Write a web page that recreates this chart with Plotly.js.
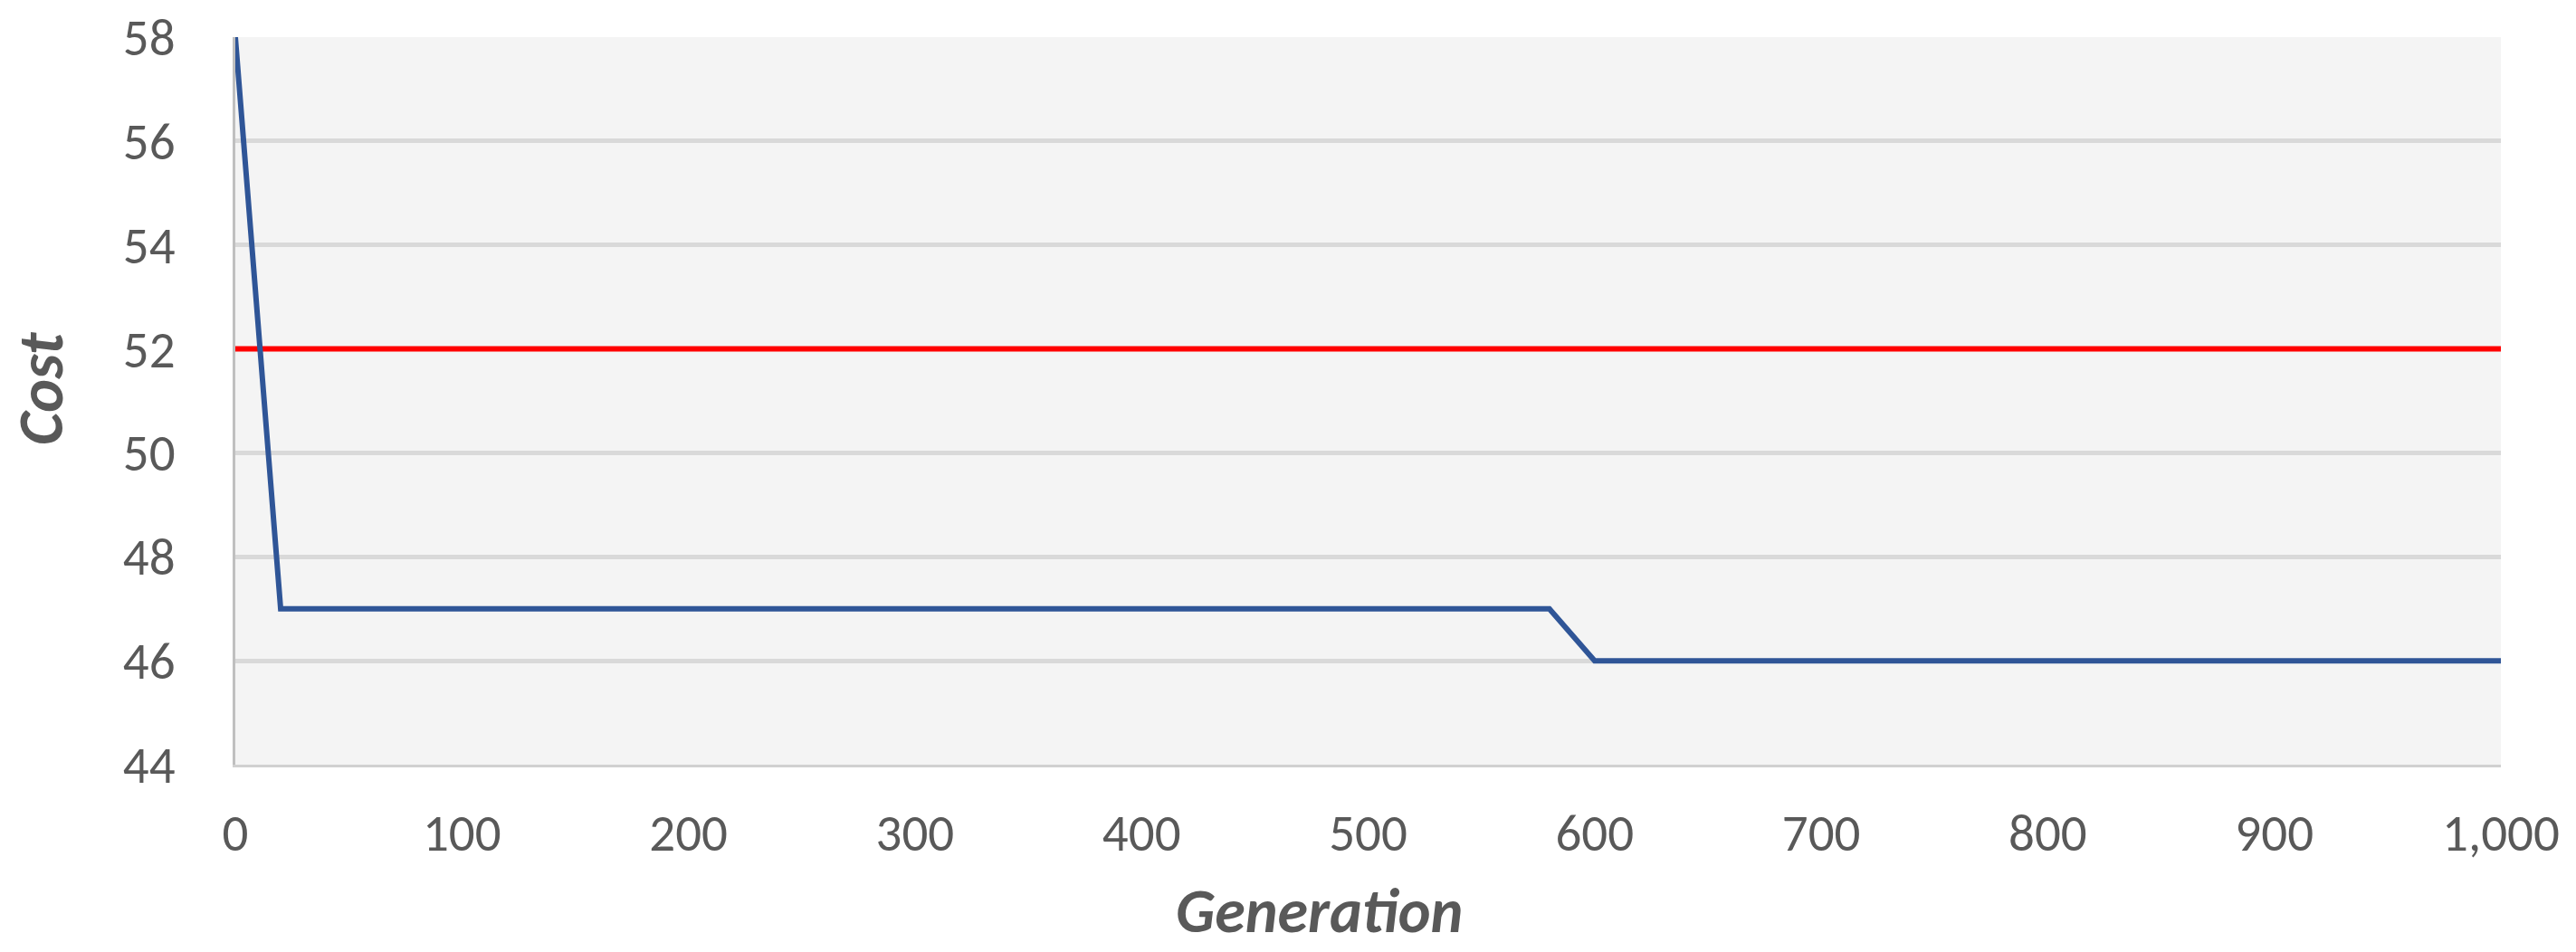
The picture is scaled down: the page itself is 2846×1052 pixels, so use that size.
<!DOCTYPE html>
<html>
<head>
<meta charset="utf-8">
<script src="https://cdn.plot.ly/plotly-3.0.1.min.js"></script>
<style>
  html, body { margin: 0; padding: 0; background: #fff; }
  #chart { width: 2846px; height: 1052px; }
</style>
</head>
<body>
<div id="chart"></div>
<script>
// best cost per generation (vertices)
let generations = [0, 20, 580, 600, 1000]
let cost = [58, 47, 47, 46, 46]

// reference cost line
let refX = [0, 1000]
let refCost = [52, 52]

let xTicks = [0, 100, 200, 300, 400, 500, 600, 700, 800, 900, 1000]
let yTicks = [44, 46, 48, 50, 52, 54, 56, 58]

let fontFam = 'Carlito, Calibri, Lato, sans-serif'
let grey = '#595959'

let costTrace = {
  x: generations,
  y: cost,
  type: 'scatter',
  mode: 'lines',
  line: {color: '#2f5597', width: 6},
  hoverinfo: 'skip'
}

let refTrace = {
  x: refX,
  y: refCost,
  type: 'scatter',
  mode: 'lines',
  line: {color: '#ff0000', width: 6},
  hoverinfo: 'skip'
}

let layout = {
  width: 2846,
  height: 1052,
  margin: {l: 260, r: 83, t: 41, b: 207},
  paper_bgcolor: '#ffffff',
  plot_bgcolor: '#f4f4f4',
  showlegend: false,
  font: {family: fontFam, color: grey, size: 58},
  xaxis: {
    range: [0, 1000],
    tickvals: xTicks,
    tickformat: ',d',
    showgrid: false,
    zeroline: false,
    showline: true,
    linecolor: '#d0d0d0',
    linewidth: 3,
    ticks: '',
    ticklabelstandoff: 24,
    tickfont: {family: fontFam, size: 57, color: grey}
  },
  yaxis: {
    range: [44, 58],
    tickvals: yTicks,
    showgrid: true,
    gridcolor: '#d9d9d9',
    gridwidth: 5,
    zeroline: false,
    showline: true,
    linecolor: '#bfbfbf',
    linewidth: 3,
    ticks: '',
    ticklabelstandoff: 52,
    tickfont: {family: fontFam, size: 57, color: grey}
  },
  annotations: [
    {
      text: '<b><i>Generation</i></b>',
      xref: 'paper', yref: 'paper',
      xanchor: 'center', yanchor: 'middle',
      showarrow: false,
      borderpad: 0,
      font: {family: fontFam, size: 68, color: grey}
    },
    {
      text: '<b><i>Cost</i></b>',
      xref: 'paper', yref: 'paper',
      xanchor: 'center', yanchor: 'middle',
      textangle: -90,
      showarrow: false,
      borderpad: 0,
      font: {family: fontFam, size: 70, color: grey}
    }
  ]
}

// place the axis titles where the reference has them (pixel centres)
layout.annotations[0].x = (1457 - 260) / (2763 - 260)
layout.annotations[1].x = (45 - 260) / (2763 - 260)
layout.annotations[0].y = (845 - 1006) / (845 - 41)
layout.annotations[1].y = (845 - 430) / (845 - 41)

Plotly.newPlot('chart', [refTrace, costTrace], layout, {staticPlot: true})
</script>
</body>
</html>
